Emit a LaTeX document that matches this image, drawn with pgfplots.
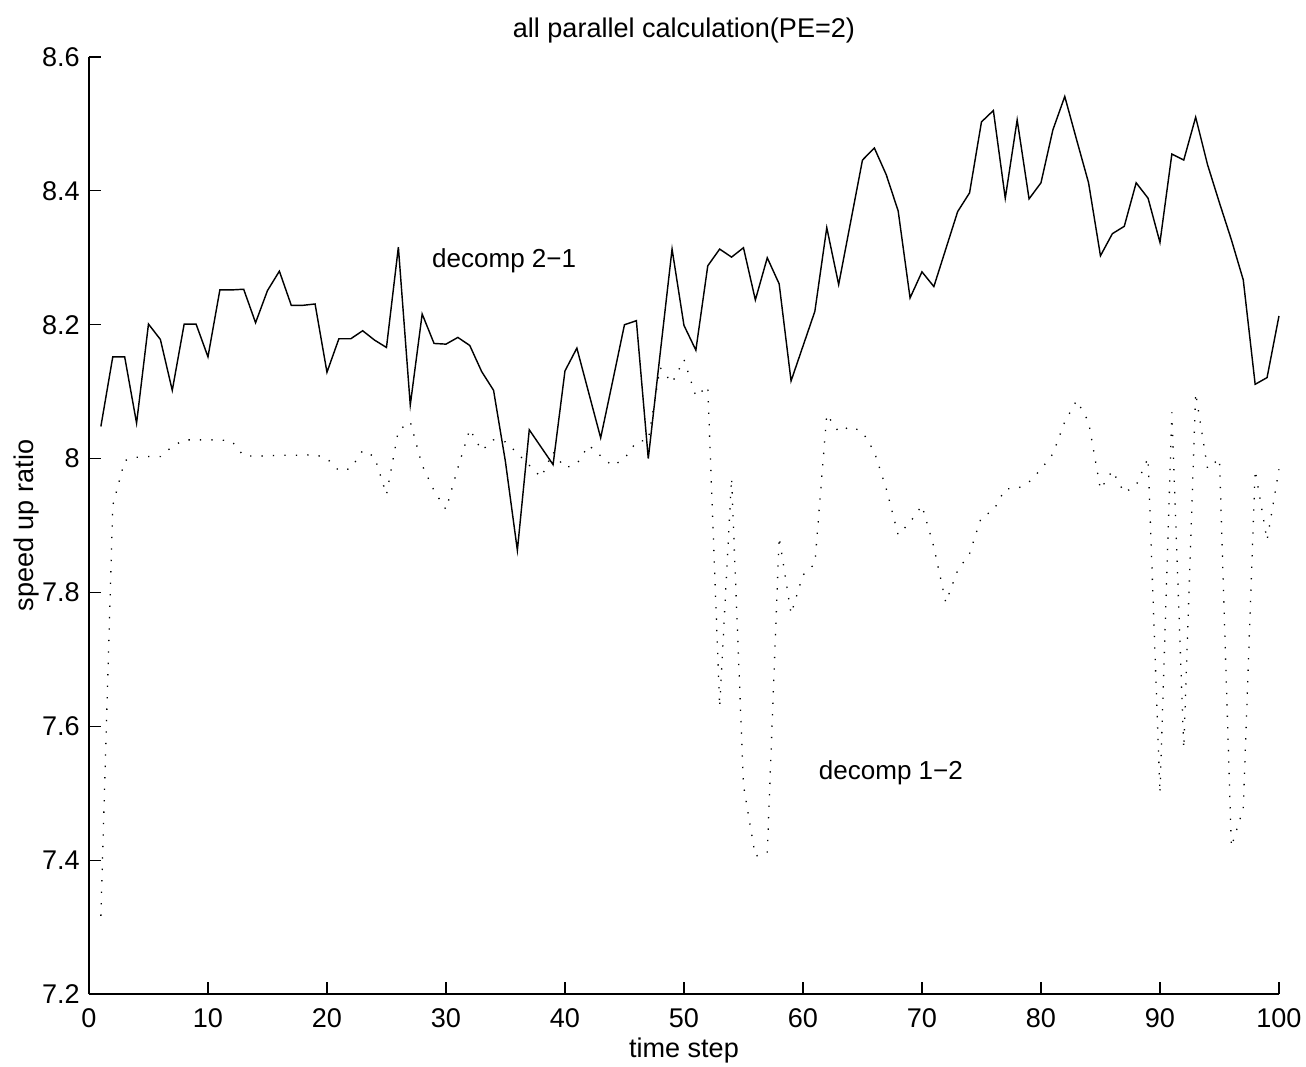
\documentclass[border=0pt]{standalone}
\usepackage{fontspec}
\setmainfont{Liberation Sans}
\usepackage{pgfplots}
\pgfplotsset{compat=1.18}
\usetikzlibrary{calc}

% speed up ratio per time step
\pgfplotstableread{
t    r
1    8.048
2    8.152
3    8.152
4    8.053
5    8.201
6    8.178
7    8.102
8    8.201
9    8.201
10   8.152
11   8.252
12   8.252
13   8.253
14   8.203
15   8.251
16   8.280
17   8.229
18   8.229
19   8.231
20   8.129
21   8.179
22   8.179
23   8.191
24   8.177
25   8.166
26   8.316
27   8.080
28   8.216
29   8.172
30   8.171
31   8.181
32   8.169
33   8.130
34   8.102
35   7.995
36   7.863
37   8.043
38   8.017
39   7.991
40   8.131
41   8.165
42   8.098
43   8.031
44   8.115
45   8.200
46   8.206
47   8.000
48   8.157
49   8.313
50   8.199
51   8.162
52   8.288
53   8.313
54   8.301
55   8.315
56   8.237
57   8.300
58   8.261
59   8.116
60   8.168
61   8.220
62   8.345
63   8.260
64   8.353
65   8.446
66   8.464
67   8.424
68   8.370
69   8.240
70   8.279
71   8.257
72   8.313
73   8.369
74   8.397
75   8.503
76   8.520
77   8.389
78   8.506
79   8.388
80   8.412
81   8.491
82   8.541
83   8.476
84   8.412
85   8.303
86   8.336
87   8.347
88   8.412
89   8.389
90   8.323
91   8.455
92   8.446
93   8.510
94   8.439
95   8.382
96   8.327
97   8.267
98   8.111
99   8.121
100  8.213
}\decompA

\pgfplotstableread{
t    r
1    7.317
2    7.930
3    7.997
4    8.002
5    8.003
6    8.003
7    8.018
8    8.028
9    8.028
10   8.028
11   8.028
12   8.026
13   8.004
14   8.004
15   8.004
16   8.005
17   8.005
18   8.005
19   8.006
20   8.000
21   7.982
22   7.985
23   8.012
24   8.003
25   7.946
26   8.042
27   8.055
28   7.990
29   7.952
30   7.924
31   7.986
32   8.044
33   8.012
34   8.028
35   8.025
36   8.008
37   7.990
38   7.972
39   8.010
40   7.986
41   7.992
42   8.020
43   8.004
44   7.989
45   8.000
46   8.025
47   8.028
48   8.136
49   8.113
50   8.148
51   8.093
52   8.108
53   7.629
54   7.971
55   7.512
56   7.406
57   7.411
58   7.883
59   7.768
60   7.826
61   7.843
62   8.066
63   8.040
64   8.048
65   8.040
66   8.010
67   7.955
68   7.886
69   7.905
70   7.930
71   7.868
72   7.785
73   7.833
74   7.858
75   7.913
76   7.922
77   7.955
78   7.955
79   7.965
80   7.984
81   8.007
82   8.055
83   8.087
84   8.055
85   7.954
86   7.982
87   7.949
88   7.960
89   8.001
90   7.500
91   8.069
92   7.567
93   8.098
94   7.985
95   8.000
96   7.420
97   7.477
98   7.983
99   7.878
100  7.984
}\decompB

\begin{document}
\begin{tikzpicture}
\begin{axis}[
  scale only axis, width=457.4pt, height=360.2pt,
  xmin=0, xmax=100, ymin=7.2, ymax=8.6,
  axis lines=left, axis line style={-, line width=0.5pt},
  xtick={0,10,...,100}, ytick={7.2,7.4,7.6,7.8,8,8.2,8.4,8.6},
  tick align=inside, major tick length=4.6pt,
  tick style={black, line width=0.5pt},
  font=\fontsize{10.4}{12.5}\selectfont,
  /pgf/number format/assume math mode=true,
  xticklabel style={anchor=base, yshift=-13pt},
  title={all parallel calculation(PE=2)},
  title style={at={(axis description cs:0.5,1)}, anchor=base, yshift=1.3pt},
  xlabel={time step},
  xlabel style={at={(axis description cs:0.5,0)}, anchor=base, yshift=-24.2pt},
  ylabel={speed up ratio},
  ylabel style={at={(axis description cs:-0.0465,0.5)}, anchor=base},
  clip=false]
\addplot[black, line width=0.55pt, line join=miter] table[x=t, y=r] {\decompA};
\addplot[black, line width=0.5pt, dash pattern=on 0.5pt off 3.9pt] table[x=t, y=r] {\decompB};
\node[anchor=base west, inner sep=0pt, font=\fontsize{10}{12}\selectfont] at (axis cs:28.8,8.286) {decomp 2−1};
\node[anchor=base west, inner sep=0pt, font=\fontsize{10}{12}\selectfont] at (axis cs:61.3,7.520) {decomp 1−2};
\end{axis}
\pgfresetboundingbox
\path[use as bounding box] ($(current axis.south west)+(-34.2pt,-27.7pt)$) rectangle ($(current axis.north east)+(10.4pt,21.9pt)$);
\end{tikzpicture}
\end{document}
